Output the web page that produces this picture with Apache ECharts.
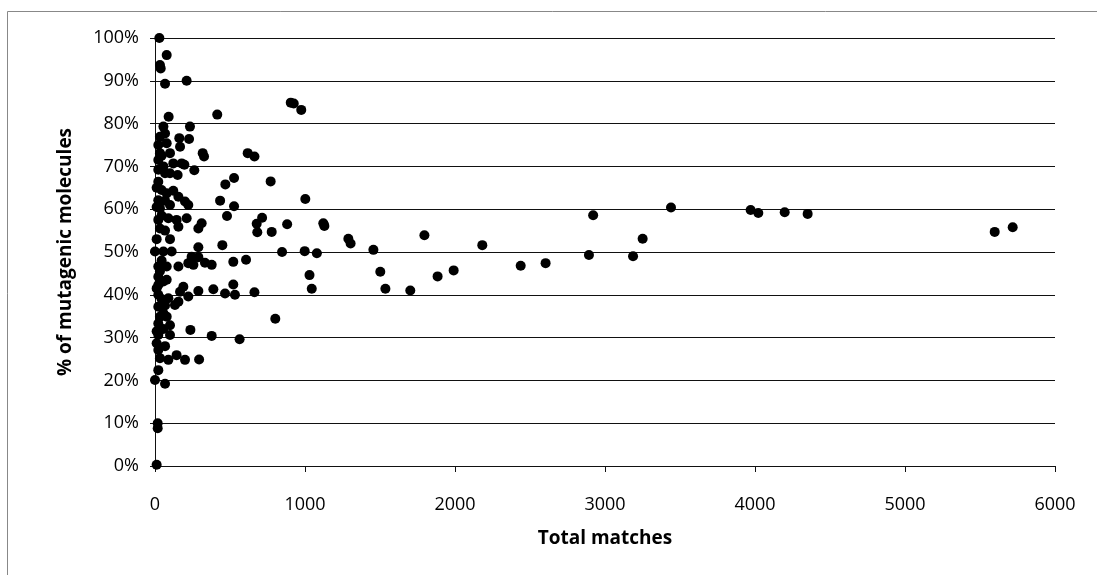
<!DOCTYPE html>
<html>
<head>
<meta charset="utf-8">
<script src="https://cdn.jsdelivr.net/npm/echarts@6/dist/echarts.min.js"></script>
<style>
html,body{margin:0;padding:0;background:#fff;}
#chart{width:1097px;height:575px;}
</style>
</head>
<body>
<div id="chart"></div>
<script>
// Total matches (x) and % of mutagenic molecules (y)
var totalMatches = [
  29,78,33,38,67,211,905,925,975,415,91,233,56,67,33,162,227,22,78,167,
  33,100,318,327,618,663,22,122,178,196,262,22,67,527,469,771,22,100,151,78,
  122,156,200,222,33,100,434,1002,527,480,22,89,144,211,289,311,156,33,714,678,
  682,778,881,1122,1129,100,449,289,0,56,111,244,222,289,333,378,256,522,607,847,
  998,1079,1289,1304,1456,22,78,156,1030,1045,1502,1536,1702,1796,1884,1991,2182,2438,2604,2921,
  2893,3187,3251,3440,3971,4022,4198,4351,5598,5718,22,22,56,189,167,289,389,467,522,533,
  663,22,89,156,222,133,22,33,78,802,56,22,100,236,378,564,22,100,11,22,
  33,89,144,200,294,22,0,67,18,18,11,
  44,56,11,44,67,11,44,67,11,44,33,11,44,67,56,11,67,22,56,78
];
var pctMutagenic = [
  100,96.0,93.7,92.9,89.3,90.0,84.9,84.7,83.2,82.1,81.6,79.3,79.3,77.7,76.9,76.6,76.4,75.0,75.4,74.6,
  73.1,73.1,73.1,72.3,73.1,72.3,71.5,70.7,70.7,70.4,69.1,69.2,68.4,67.3,65.8,66.5,66.4,68.4,68.0,63.7,
  64.3,62.9,61.8,61.0,60.2,61.0,62.0,62.4,60.7,58.4,57.5,57.9,57.5,57.9,55.5,56.7,55.9,55.5,58.0,56.6,
  54.6,54.7,56.5,56.7,56.1,53.0,51.6,51.1,50.1,50.1,50.1,48.9,47.4,48.8,47.5,47.0,47.0,47.7,48.2,50.0,
  50.2,49.7,53.1,52.0,50.5,46.6,46.6,46.6,44.6,41.4,45.4,41.4,41.0,53.9,44.3,45.7,51.6,46.8,47.4,58.6,
  49.3,49.0,53.1,60.4,59.8,59.1,59.3,58.9,54.7,55.8,44.2,42.3,43.1,41.9,40.7,40.9,41.3,40.3,42.4,40.0,
  40.6,40.0,39.2,38.4,39.6,37.6,37.2,34.9,34.9,34.4,35.7,33.3,32.9,31.8,30.4,29.6,30.6,30.6,28.7,27.1,
  25.2,24.8,25.9,24.8,24.9,22.4,20.1,19.2,10.0,8.8,0.3,
  72.5,70.0,65.0,64.5,62.0,60.5,58.5,55.0,53.0,48.0,45.5,41.5,39.0,37.5,32.0,31.5,28.0,62.1,38.5,43.5
];
var xTicks = [0,1000,2000,3000,4000,5000,6000];
var yTicks = [0,10,20,30,40,50,60,70,80,90,100];

var points = totalMatches.map(function(x,i){ return [x, pctMutagenic[i]]; });

var FONT = '"Open Sans", "Liberation Sans", sans-serif';
var chart = echarts.init(document.getElementById('chart'));
chart.setOption({
  animation: false,
  backgroundColor: '#fff',
  graphic: [{
    type: 'rect', left: 5, top: 9, silent: true,
    shape: {width: 1200, height: 700},
    style: {fill: 'none', stroke: '#888', lineWidth: 1}
  }],
  grid: {left: 155, right: 42, top: 38, bottom: 109, containLabel: false},
  xAxis: {
    type: 'value', min: xTicks[0], max: xTicks[xTicks.length-1], interval: 1000,
    name: 'Total matches', nameLocation: 'middle', nameGap: 63,
    nameTextStyle: {fontFamily: FONT, fontSize: 19, fontWeight: 'bold', color: '#000'},
    axisLine: {show: true, lineStyle: {color: '#111', width: 1}},
    axisTick: {show: true, length: 6, lineStyle: {color: '#111'}},
    axisLabel: {fontFamily: FONT, fontSize: 18, color: '#000', margin: 30,
      formatter: function(v){ return String(v); }},
    splitLine: {show: false}
  },
  yAxis: {
    type: 'value', min: yTicks[0], max: yTicks[yTicks.length-1], interval: 10,
    name: '% of mutagenic molecules', nameLocation: 'middle', nameGap: 80,
    nameTextStyle: {fontFamily: FONT, fontSize: 19, fontWeight: 'bold', color: '#000'},
    axisLine: {show: true, lineStyle: {color: '#111', width: 1}},
    axisTick: {show: true, length: 5, lineStyle: {color: '#111'}},
    axisLabel: {fontFamily: FONT, fontSize: 18, color: '#000', margin: 16, formatter: '{value}%'},
    splitLine: {show: true, lineStyle: {color: '#111', width: 1}}
  },
  series: [{
    type: 'scatter',
    data: points,
    symbol: 'circle',
    symbolSize: 10,
    itemStyle: {color: '#000', opacity: 1}
  }]
});
</script>
</body>
</html>
